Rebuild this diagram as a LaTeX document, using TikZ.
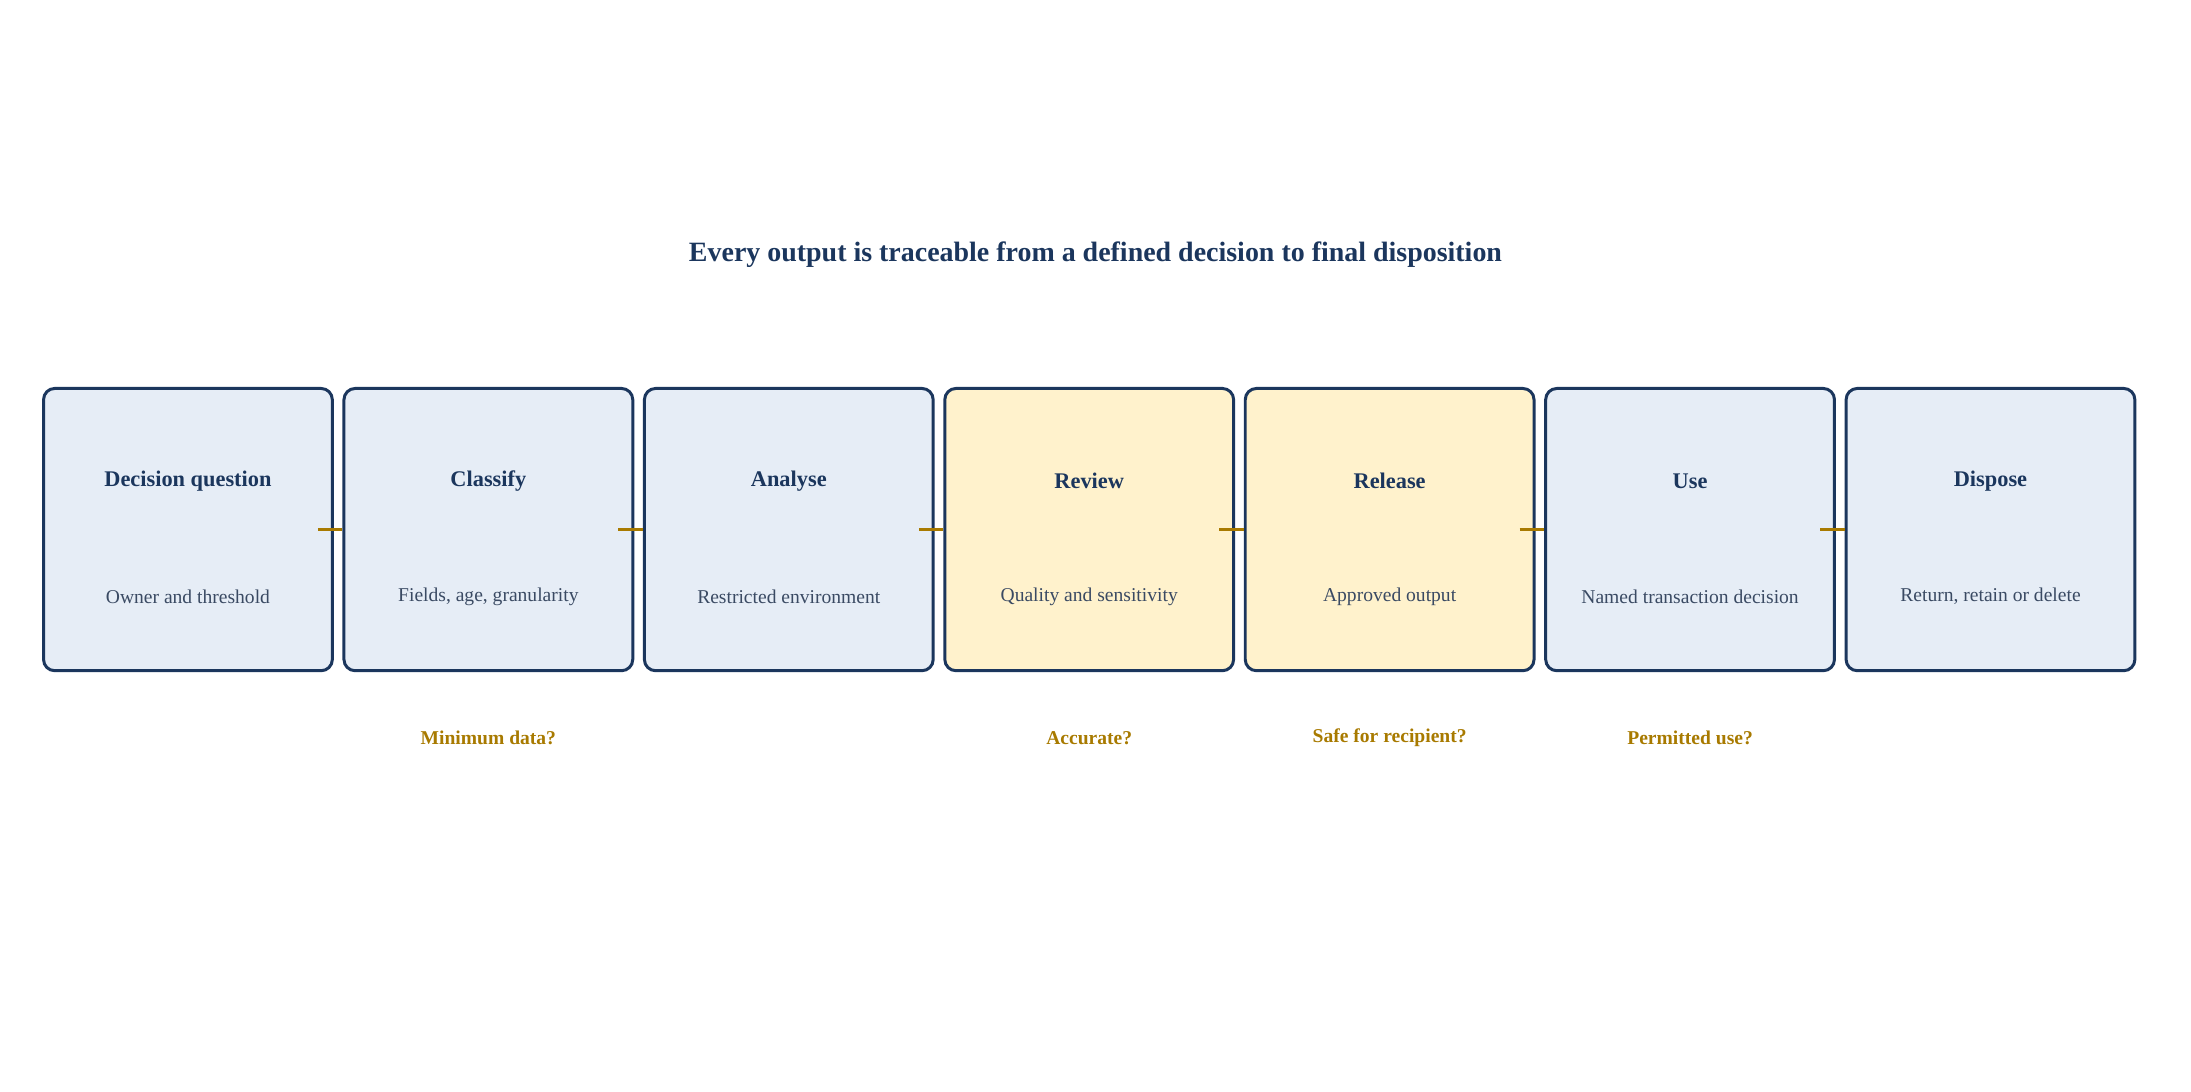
\documentclass[tikz,border=0pt]{standalone}
\usepackage{fontspec}
\setmainfont{Liberation Serif}
\definecolor{navy}{HTML}{1B365D}
\definecolor{paleblue}{HTML}{E6EDF6}
\definecolor{paleyellow}{HTML}{FFF2CC}
\definecolor{gold}{HTML}{A87A00}
\definecolor{slate}{HTML}{3A4A63}
\tikzset{
  stage/.style={draw=navy, line width=1.6pt, rounded corners=6pt, fill=paleblue,
    minimum width=155pt, minimum height=151.5pt, inner sep=0pt},
  hot/.style={stage, fill=paleyellow},
  head/.style={font=\fontsize{12}{14}\selectfont\bfseries, text=navy},
  sub/.style={font=\fontsize{10.5}{12}\selectfont, text=slate},
  check/.style={font=\fontsize{10.5}{12}\selectfont\bfseries, text=gold},
  link/.style={draw=gold, line width=1.5pt}
}
\begin{document}
\begin{tikzpicture}[x=0.75pt, y=-0.75pt]
    \useasboundingbox (0,0) rectangle (1568,781);
    % Title
    \node (title) [font=\fontsize{15}{18}\selectfont\bfseries, text=navy] at (784,182) {Every output is traceable from a defined decision to final disposition};

    % Stages
    \node (s1) [stage] at (134.5,379) {};
    \node (s2) [stage] at (349.5,379) {};
    \node (s3) [stage] at (564.5,379) {};
    \node (s4) [hot] at (779.5,379) {};
    \node (s5) [hot] at (994.5,379) {};
    \node (s6) [stage] at (1209.5,379) {};
    \node (s7) [stage] at (1424.5,379) {};

    % Stage texts
    \foreach \s/\h/\t in {s1/Decision question/Owner and threshold,
                          s2/Classify/{Fields, age, granularity},
                          s3/Analyse/Restricted environment,
                          s4/Review/Quality and sensitivity,
                          s5/Release/Approved output,
                          s6/Use/Named transaction decision,
                          s7/Dispose/{Return, retain or delete}} {
        \node (\s-h) [head] at ([yshift=26pt]\s.center) {\h};
        \node (\s-t) [sub] at ([yshift=-36pt]\s.center) {\t};
    }

    % Links
    \foreach \a/\b in {s1/s2, s2/s3, s3/s4, s4/s5, s5/s6, s6/s7}
        \draw[link] ([xshift=-8.5pt]\a.east) -- (\b.west);

    % Checks
    \node (q2) [check] at (349.5,528) {Minimum data?};
    \node (q4) [check] at (779.5,528) {Accurate?};
    \node (q5) [check] at (994.5,528) {Safe for recipient?};
    \node (q6) [check] at (1209.5,528) {Permitted use?};
\end{tikzpicture}
\end{document}
